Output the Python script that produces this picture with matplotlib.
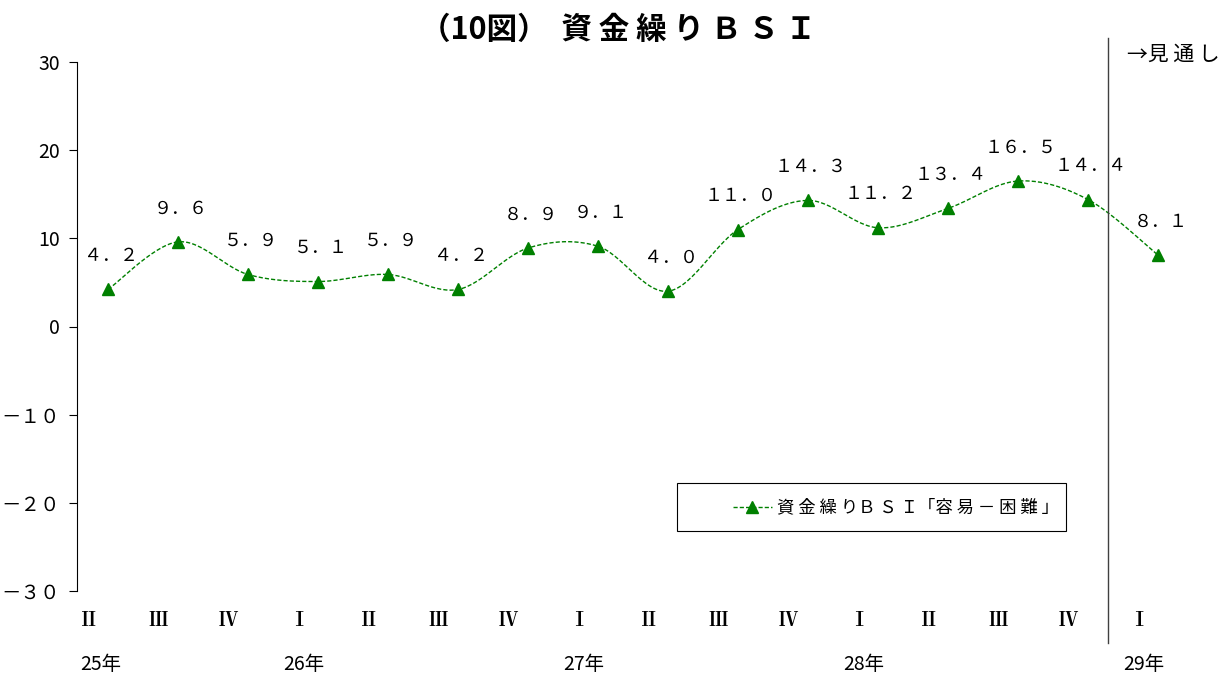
import numpy as np
import matplotlib.pyplot as plt
from matplotlib.lines import Line2D
from matplotlib.patches import Rectangle
from matplotlib.transforms import blended_transform_factory

plt.rcParams['font.family'] = ['Noto Sans CJK JP', 'DejaVu Sans']

# data
quarters = ['Ⅱ', 'Ⅲ', 'Ⅳ', 'Ⅰ', 'Ⅱ', 'Ⅲ', 'Ⅳ', 'Ⅰ', 'Ⅱ', 'Ⅲ', 'Ⅳ', 'Ⅰ', 'Ⅱ', 'Ⅲ', 'Ⅳ', 'Ⅰ']
years = ['25年', '26年', '27年', '28年', '29年']
year_pos = [-0.1, 2.8, 6.8, 10.8, 14.8]
bsi = [4.2, 9.6, 5.9, 5.1, 5.9, 4.2, 8.9, 9.1, 4.0, 11.0, 14.3, 11.2, 13.4, 16.5, 14.4, 8.1]
yticks = [30, 20, 10, 0, -10, -20, -30]
ytick_labels = ['30', '20', '10', '0', '－１０', '－２０', '－３０']

W, H = 1228, 675
fig = plt.figure(figsize=(W / 100, H / 100), dpi=100)
ax = fig.add_axes([77 / W, 1 - 591 / H, (1200 - 77) / W, (591 - 62) / H])

x = np.arange(len(bsi))
y = np.array(bsi)

# smoothed curve (Catmull-Rom style bezier like Excel smoothing)
def smooth(xs, ys, n=30):
    px = np.concatenate([[xs[0]], xs, [xs[-1]]])
    py = np.concatenate([[ys[0]], ys, [ys[-1]]])
    outx, outy = [], []
    t = np.linspace(0, 1, n)
    for i in range(1, len(px) - 2):
        p0 = np.array([px[i], py[i]])
        p3 = np.array([px[i + 1], py[i + 1]])
        p1 = p0 + (np.array([px[i + 1], py[i + 1]]) - np.array([px[i - 1], py[i - 1]])) / 6
        p2 = p3 - (np.array([px[i + 2], py[i + 2]]) - np.array([px[i], py[i]])) / 6
        b = ((1 - t) ** 3)[:, None] * p0 + (3 * (1 - t) ** 2 * t)[:, None] * p1 \
            + (3 * (1 - t) * t ** 2)[:, None] * p2 + (t ** 3)[:, None] * p3
        outx.extend(b[:, 0])
        outy.extend(b[:, 1])
    return outx, outy

sx, sy = smooth(x.astype(float), y)
green = '#008000'
ax.plot(sx, sy, color=green, lw=1, linestyle=(0, (3, 1.5)))
ax.plot(x, y, linestyle='none', marker='^', color=green, markersize=9)

for xi, yi in zip(x, y):
    lab = f'{yi:.1f}'.translate(str.maketrans('0123456789.', '０１２３４５６７８９．'))
    ax.annotate(lab, (xi, yi), xytext=(2, 24), textcoords='offset points',
                ha='center', va='center', fontsize=13)

ax.set_xlim(-31 / 70, (1200 - 108) / 70)
ax.set_ylim(-30, 30)
ax.set_yticks(yticks)
ax.set_yticklabels(ytick_labels, fontsize=14)
ax.tick_params(axis='y', direction='out', length=6, pad=6)
ax.set_xticks([])
for s in ['top', 'right', 'bottom']:
    ax.spines[s].set_visible(False)
ax.spines['left'].set_linewidth(0.8)

# category labels
trans = blended_transform_factory(ax.transData, fig.transFigure)
for i, q in enumerate(quarters):
    ax.text(i - 0.28, 1 - 620 / H, q, transform=trans, ha='center', va='center',
            fontsize=14, fontweight='bold', family=['Noto Serif CJK JP', 'Noto Sans CJK JP', 'DejaVu Serif'])
for yp, yl in zip(year_pos, years):
    ax.text(yp, 1 - 665 / H, yl, transform=trans, ha='center', va='center', fontsize=14)

# forecast divider
ax.axvline(14 + 2 / 7, ymin=-52 / 529, ymax=(591 - 38) / 529, color='#404040', lw=1, clip_on=False)
fig.text(1127 / W, 1 - 55 / H, '→見 通 し', fontsize=15, ha='left', va='center')

# title
fig.text(618 / W, 1 - 30 / H, '（10図）  資 金 繰 り Ｂ Ｓ Ｉ', fontsize=22, fontweight='bold',
         ha='center', va='center')

# legend box
fig.patches.append(Rectangle((677 / W, 1 - 531 / H), (1066 - 677) / W, 48 / H,
                             transform=fig.transFigure, fill=False, edgecolor='black', lw=0.8))
fig.lines.append(Line2D([733 / W, 772 / W], [1 - 507 / H] * 2, transform=fig.transFigure,
                        color=green, lw=1, linestyle=(0, (3, 1.5))))
fig.lines.append(Line2D([752 / W], [1 - 507 / H], transform=fig.transFigure,
                        color=green, marker='^', markersize=8, linestyle='none'))
fig.text(777 / W, 1 - 507 / H, '資 金 繰 りＢ Ｓ Ｉ「容 易 － 困 難 」', fontsize=12.5,
         ha='left', va='center')

fig.savefig('out.png', dpi=100)
